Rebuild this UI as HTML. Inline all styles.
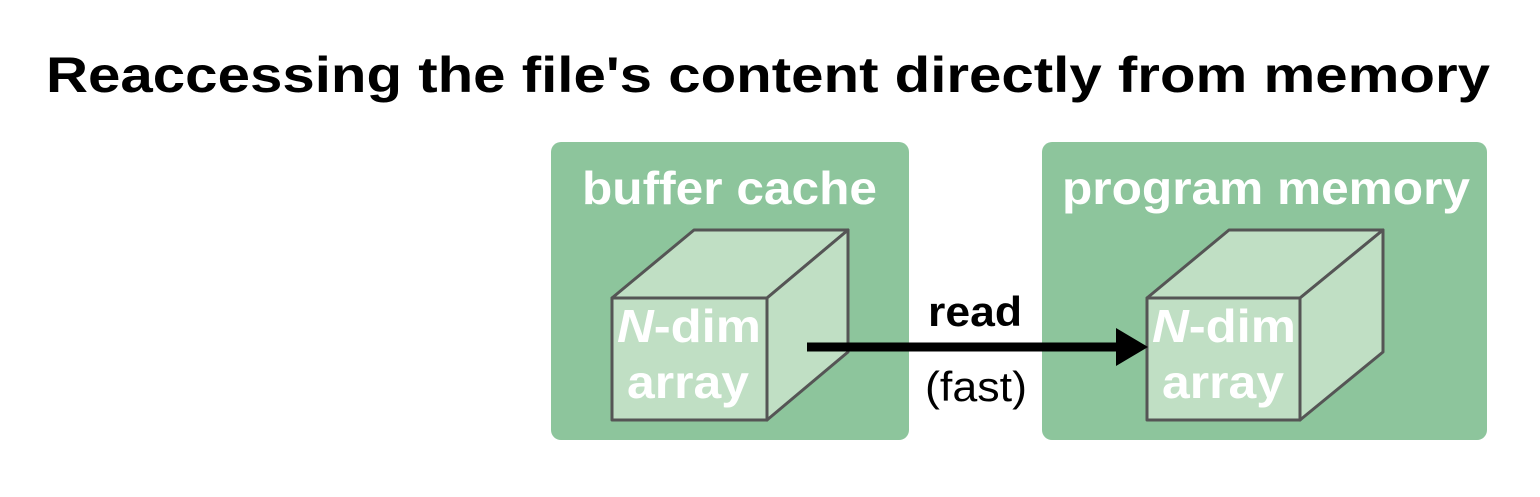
<!DOCTYPE html>
<html><head><meta charset="utf-8"><style>
html,body{margin:0;padding:0;background:#fff;}
</style></head><body>
<svg width="1540" height="492" viewBox="0 0 1540 492" xmlns="http://www.w3.org/2000/svg" font-family="Liberation Sans, Arial, sans-serif">
<text x="46" y="92" font-size="50" font-weight="bold" fill="#000" textLength="1444" lengthAdjust="spacingAndGlyphs">Reaccessing the file's content directly from memory</text>
<rect x="551" y="142" width="358" height="298" rx="10" fill="#8dc59c"/>
<rect x="1042" y="142" width="445" height="298" rx="10" fill="#8dc59c"/>
<text x="582" y="204" font-size="46" font-weight="bold" fill="#fff" textLength="295" lengthAdjust="spacingAndGlyphs">buffer cache</text>
<text x="1062" y="204" font-size="46" font-weight="bold" fill="#fff" textLength="408" lengthAdjust="spacingAndGlyphs">program memory</text>
<g stroke="#555" stroke-width="3" stroke-linejoin="round" fill="#c0dfc4">
<polygon points="612,298 694,230 848,230 767,298"/>
<polygon points="767,298 848,230 848,352 767,420"/>
<rect x="612" y="298" width="155" height="122"/>
<polygon points="1147,298 1229,230 1383,230 1300,298"/>
<polygon points="1300,298 1383,230 1383,352 1300,420"/>
<rect x="1147" y="298" width="153" height="122"/>
</g>
<g font-size="46" font-weight="bold" fill="#fff">
<text x="617" y="342" textLength="144" lengthAdjust="spacingAndGlyphs"><tspan font-style="italic">N</tspan>-dim</text>
<text x="627" y="398" textLength="122" lengthAdjust="spacingAndGlyphs">array</text>
<text x="1152" y="342" textLength="144" lengthAdjust="spacingAndGlyphs"><tspan font-style="italic">N</tspan>-dim</text>
<text x="1162" y="398" textLength="122" lengthAdjust="spacingAndGlyphs">array</text>
</g>
<line x1="807" y1="347" x2="1122" y2="347" stroke="#000" stroke-width="9"/>
<polygon points="1116,328 1148,347 1116,366" fill="#000"/>
<text x="928" y="326" font-size="42" font-weight="bold" textLength="94" lengthAdjust="spacingAndGlyphs">read</text>
<text x="925" y="401" font-size="42" textLength="102" lengthAdjust="spacingAndGlyphs">(fast)</text>
</svg>
</body></html>
